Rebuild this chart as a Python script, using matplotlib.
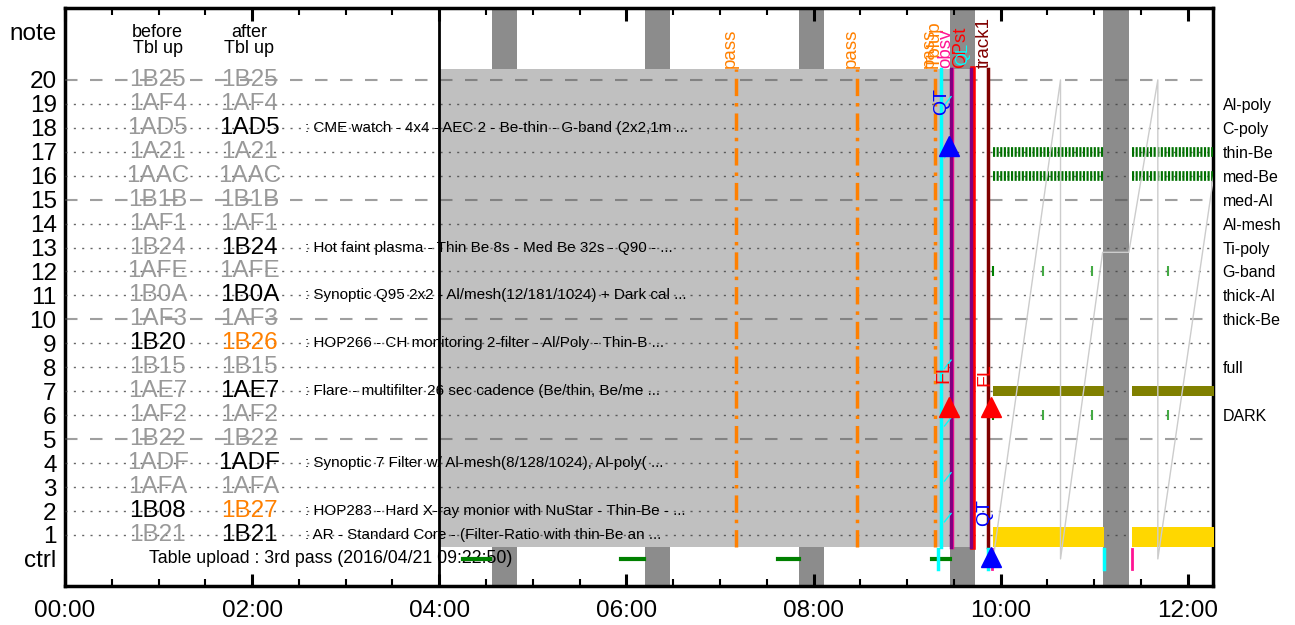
import matplotlib
matplotlib.use("Agg")
import matplotlib.pyplot as plt
from matplotlib.ticker import MultipleLocator

plt.rcParams['font.family'] = ['Liberation Sans', 'DejaVu Sans']

# --- table rows (row number, before, after, description) ---
rows = list(range(20, 0, -1))
before = ["1B25", "1AF4", "1AD5", "1A21", "1AAC", "1B1B", "1AF1", "1B24", "1AFE", "1B0A",
          "1AF3", "1B20", "1B15", "1AE7", "1AF2", "1B22", "1ADF", "1AFA", "1B08", "1B21"]
after = ["1B25", "1AF4", "1AD5", "1A21", "1AAC", "1B1B", "1AF1", "1B24", "1AFE", "1B0A",
         "1AF3", "1B26", "1B15", "1AE7", "1AF2", "1B22", "1ADF", "1AFA", "1B27", "1B21"]
# g = unused (gray), b = black, o = orange
before_col = ["g", "g", "g", "g", "g", "g", "g", "g", "g", "g",
              "g", "b", "g", "g", "g", "g", "g", "g", "b", "g"]
after_col = ["g", "g", "b", "g", "g", "g", "g", "b", "g", "b",
             "g", "o", "g", "b", "g", "g", "b", "g", "o", "b"]
desc = {
    18: ": CME watch - 4x4 - AEC 2 - Be-thin - G-band (2x2,1m ...",
    13: ": Hot faint plasma - Thin Be 8s - Med Be 32s - Q90 - ...",
    11: ": Synoptic Q95 2x2 - Al/mesh(12/181/1024) + Dark cal ...",
    9: ": HOP266 - CH monitoring 2-filter - Al/Poly - Thin-B ...",
    7: ": Flare - multifilter 26 sec cadence (Be/thin, Be/me ...",
    4: ": Synoptic 7 Filter w/ Al-mesh(8/128/1024), Al-poly( ...",
    2: ": HOP283 - Hard X-ray monior with NuStar - Thin-Be - ...",
    1: ": AR - Standard Core - (Filter-Ratio with thin-Be an ...",
}
filter_rows = [19, 18, 17, 16, 15, 14, 13, 12, 11, 10, 8, 6]
filter_names = ["Al-poly", "C-poly", "thin-Be", "med-Be", "med-Al", "Al-mesh", "Ti-poly",
                "G-band", "thick-Al", "thick-Be", "full", "DARK"]

# --- timeline (hours from 00:00) ---
night = [(4.56, 4.83), (6.20, 6.47), (7.84, 8.11), (9.46, 9.73), (11.09, 11.37)]
plan_span = (4.0, 9.73)
pass_t = [7.17, 8.46, 9.30]
events = [  # time, label, colour, label x
    (9.365, "Tblup", "#ff8000", 9.30),
    (9.48, "obsv", "#ff1493", 9.41),
    (9.70, "OPst", "red", 9.57),
    (9.87, "track1", "#800000", 9.82),
]
purple_t = [9.47, 9.68]
ctrl_green = [(4.25, 4.54), (5.94, 6.19), (7.62, 7.84), (9.27, 9.46)]
ctrl_cyan = [9.33, 9.87, 11.11]
ctrl_pink = [9.91, 11.40]
obs_segments = [(9.92, 11.10), (11.40, 12.30)]
sparse_t = [9.92, 10.45, 10.98, 11.79]
cyan_marks = [19.1, 16.9, 8.1, 5.7, 3.4, 1.7]
saw_t = [9.92, 10.64, 10.64, 11.09, 11.37, 11.68, 11.68, 12.30]
saw_v = [0.0, 20.0, 0.0, 12.8, 12.8, 20.0, 0.0, 16.6]

fig = plt.figure(figsize=(12.95, 6.25), dpi=100)
ax = fig.add_axes([0.0502, 0.0624, 0.8865, 0.9248])
ax.set_xlim(0, 12.27)
ax.set_ylim(-1.13, 23.0)

for t0, t1 in night:
    ax.axvspan(t0, t1, color="#8c8c8c", lw=0, zorder=1)
ax.fill_between(plan_span, 0.5, 20.45, color="#c0c0c0", lw=0, zorder=2)

for r in rows:
    if r % 5 == 0:
        ax.axhline(r, color="#505050", alpha=0.55, lw=1.5, ls=(0, (6, 6)), zorder=3)
    else:
        ax.axhline(r, color="#404040", alpha=0.8, lw=1.0, ls=(0, (1.5, 4.5)), zorder=3)

ax.axvline(4.0, color="black", lw=2, zorder=6)

# table columns
cmap = {"g": "#999999", "b": "black", "o": "#ff8000"}
ax.text(0.99, 21.65, "before\nTbl up", ha="center", va="center", fontsize=13, linespacing=0.95)
ax.text(1.97, 21.65, "after\nTbl up", ha="center", va="center", fontsize=13, linespacing=0.95)
for i, r in enumerate(rows):
    ax.text(0.99, r, before[i], ha="center", va="center", fontsize=17.5, color=cmap[before_col[i]], zorder=4)
    ax.text(1.97, r, after[i], ha="center", va="center", fontsize=17.5, color=cmap[after_col[i]], zorder=4)
    if r in desc:
        ax.text(2.56, r, desc[r], ha="left", va="center", fontsize=11, zorder=4)
ax.text(0.9, 0, "Table upload : 3rd pass (2016/04/21 09:22:50)", ha="left", va="center", fontsize=12.8, zorder=4)

# vertical event lines
for t in pass_t:
    ax.plot([t, t], [0.5, 20.45], color="#ff8000", lw=2.5, ls=(0, (5, 2, 1, 2)), zorder=5)
    ax.text(t - 0.06, 20.5, "pass", rotation=90, ha="center", va="bottom", color="#ff8000", fontsize=13.5)
for t, lab, c, tx in events:
    lw = 4 if c == "red" else 2.5
    col = "cyan" if lab == "Tblup" else c
    ax.plot([t, t], [0.5, 20.45], color=col, lw=lw, zorder=5)
    ax.text(tx, 20.5, lab, rotation=90, ha="center", va="bottom", color=c, fontsize=13.5)
ax.text(9.60, 20.6, "QL", rotation=90, ha="center", va="bottom", color="cyan", fontsize=12)
for t in purple_t:
    ax.plot([t, t], [0.5, 20.45], color="#800080", lw=2.5, zorder=5)
for y in cyan_marks:
    ax.plot([9.40, 9.47], [y - 0.15, y + 0.2], color="cyan", lw=1, zorder=5)

# markers
ax.plot([9.45], [17.25], marker="^", ms=14, color="blue", ls="none", zorder=7)
ax.plot([9.45, 9.90], [6.35, 6.35], marker="^", ms=14, color="red", ls="none", zorder=7)
ax.plot([9.90], [0.1], marker="^", ms=14, color="blue", ls="none", zorder=7)
ax.text(9.37, 19.1, "QT", rotation=90, ha="center", va="center", color="blue", fontsize=14, zorder=8)
ax.text(9.83, 1.95, "QT", rotation=90, ha="center", va="center", color="blue", fontsize=14, zorder=8)
ax.text(9.39, 7.8, "FL", rotation=90, ha="center", va="center", color="red", fontsize=14, zorder=8)
ax.text(9.83, 7.7, "FL", rotation=90, ha="center", va="center", color="red", fontsize=14, zorder=8)

# ctrl row
for t0, t1 in ctrl_green:
    ax.plot([t0, t1], [0, 0], color="green", lw=3, zorder=5)
for t in ctrl_cyan:
    ax.plot([t, t], [-0.4, 0.4], color="cyan", lw=2.5, zorder=5)
for t in ctrl_pink:
    ax.plot([t, t], [-0.4, 0.4], color="#ff1493", lw=2, zorder=5)

# observations
for t0, t1 in obs_segments:
    ax.fill_between([t0, t1], 6.79, 7.21, color="#808000", lw=0, zorder=4)
    ax.fill_between([t0, t1], 0.5, 1.35, color="#ffd700", lw=0, zorder=4)
    for r in (17, 16):
        ax.plot([t0, t1], [r, r], color="#007000", lw=7, dashes=(0.22, 0.15), zorder=4)
for i, t in enumerate(sparse_t):
    c = "green" if i == 0 else "#44aa44"
    ax.plot([t, t], [12, 6], marker="|", ms=7, mew=1.5, color=c, ls="none", zorder=4)
ax.plot(saw_t, saw_v, color="#cccccc", lw=1, zorder=5)

# axes styling
ax.set_yticks([0] + rows + [22])
ax.set_yticklabels(["ctrl"] + [str(r) for r in rows] + ["note"], fontsize=17.5)
ax.tick_params(axis="y", length=0, pad=6)
ax.xaxis.set_minor_locator(MultipleLocator(0.5))
ax.set_xticks(range(0, 13, 2))
ax.set_xticklabels(["%02d:00" % h for h in range(0, 13, 2)], fontsize=17.5)
ax.tick_params(axis="x", which="major", direction="in", top=True, length=9, width=2.2, pad=10)
ax.tick_params(axis="x", which="minor", direction="in", top=True, length=5, width=1.5)
for s in ax.spines.values():
    s.set_linewidth(2.5)

ax2 = ax.twinx()
ax2.set_ylim(ax.get_ylim())
ax2.set_yticks(filter_rows)
ax2.set_yticklabels(filter_names, fontsize=11.5)
ax2.tick_params(axis="y", length=0, pad=7)
for s in ax2.spines.values():
    s.set_visible(False)

fig.savefig("out.png", dpi=100)
